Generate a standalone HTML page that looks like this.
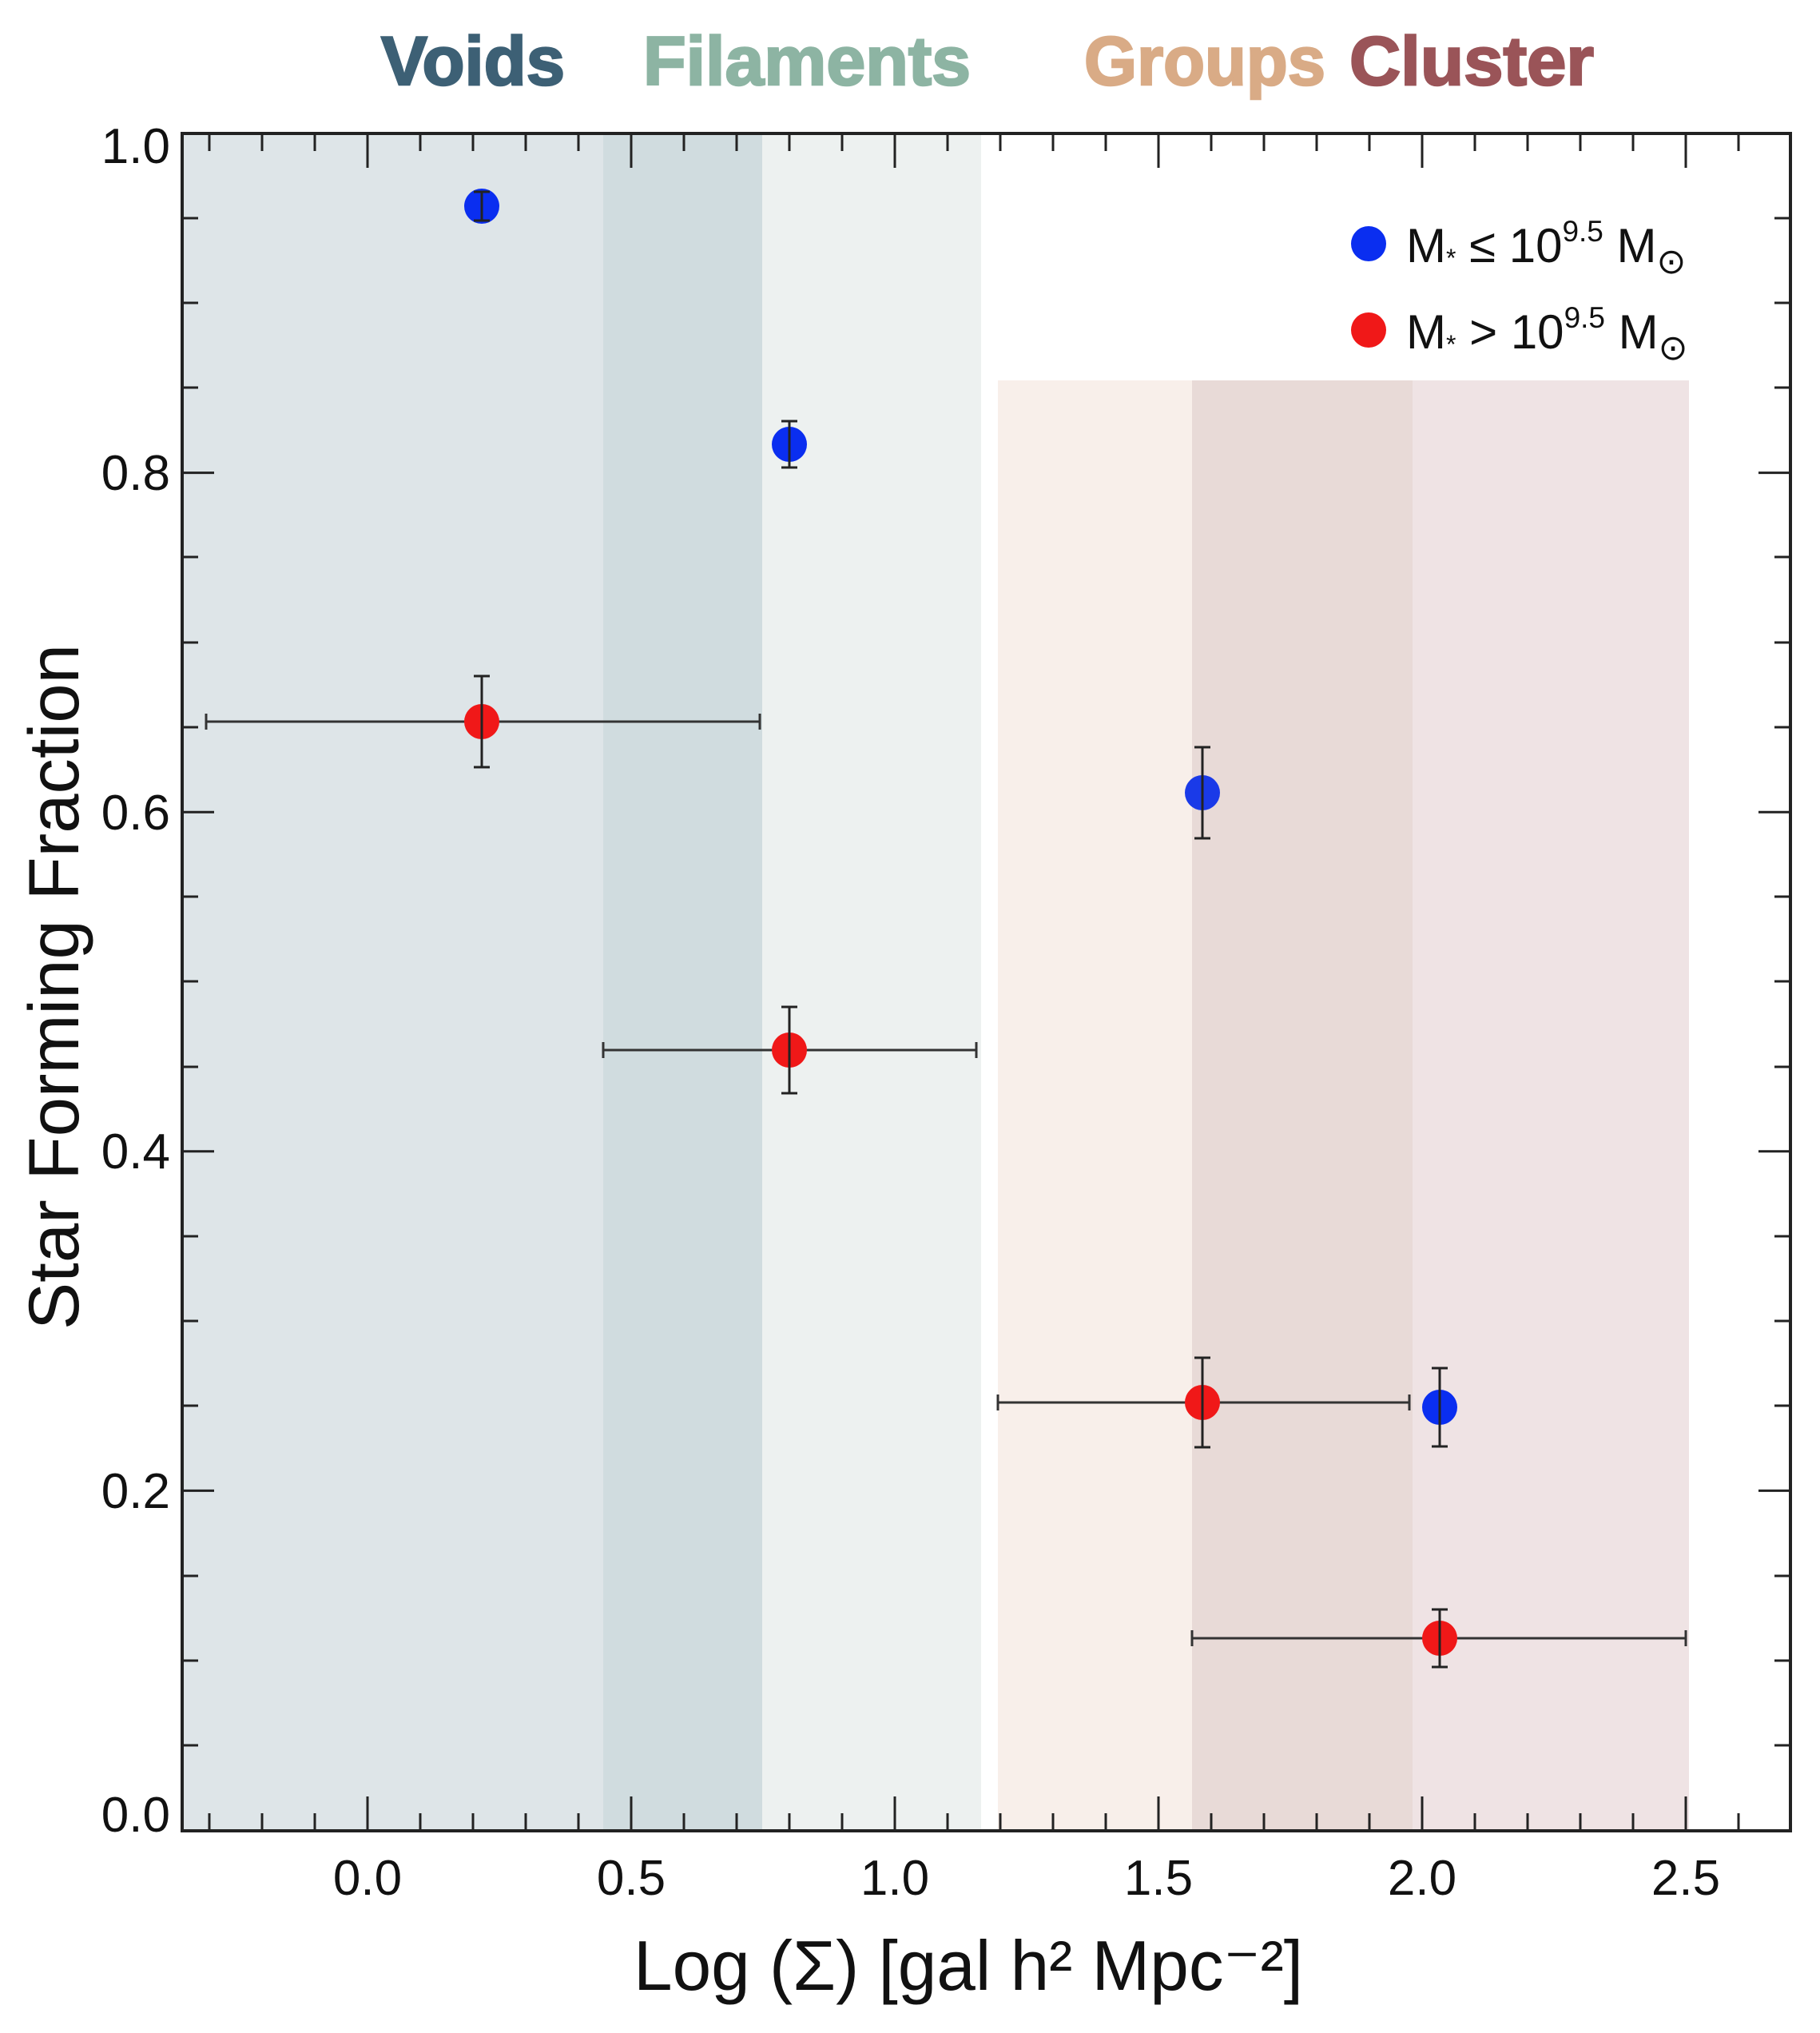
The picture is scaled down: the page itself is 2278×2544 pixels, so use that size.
<!DOCTYPE html>
<html><head><meta charset="utf-8"><style>
html,body{margin:0;padding:0;background:#fff;}
svg{display:block;font-family:"Liberation Sans",Arial,sans-serif;}
</style></head><body>
<svg width="2278" height="2544" viewBox="0 0 2278 2544" xmlns="http://www.w3.org/2000/svg">
<rect x="228" y="167" width="527" height="2124" fill="#dee5e8"/>
<rect x="755" y="167" width="199" height="2124" fill="#d0dcdf"/>
<rect x="954" y="167" width="274" height="2124" fill="#edf1f0"/>
<rect x="1249" y="476" width="243" height="1815" fill="#f8efea"/>
<rect x="1492" y="476" width="276" height="1815" fill="#e8dad7"/>
<rect x="1768" y="476" width="346" height="1815" fill="#efe3e4"/>

<g font-weight="bold" font-size="86" text-anchor="middle" stroke-width="2.5">
<text x="592" y="106" fill="#3d6075" stroke="#3d6075" textLength="230" lengthAdjust="spacingAndGlyphs">Voids</text>
<text x="1010" y="106" fill="#8db4a3" stroke="#8db4a3" textLength="410" lengthAdjust="spacingAndGlyphs">Filaments</text>
<text x="1508" y="106" fill="#d9ab86" stroke="#d9ab86" textLength="302" lengthAdjust="spacingAndGlyphs">Groups</text>
<text x="1842" y="106" fill="#9a5458" stroke="#9a5458" textLength="306" lengthAdjust="spacingAndGlyphs">Cluster</text>
</g>

<g stroke="#222" stroke-width="3">
<path d="M460 2291v-43M790 2291v-43M1120 2291v-43M1450 2291v-43M1780 2291v-43M2110 2291v-43
M460 167v43M790 167v43M1120 167v43M1450 167v43M1780 167v43M2110 167v43"/>
<path d="M262 2291v-22M328 2291v-22M394 2291v-22M526 2291v-22M592 2291v-22M658 2291v-22M724 2291v-22M856 2291v-22M922 2291v-22M988 2291v-22M1054 2291v-22M1186 2291v-22M1252 2291v-22M1318 2291v-22M1384 2291v-22M1516 2291v-22M1582 2291v-22M1648 2291v-22M1714 2291v-22M1846 2291v-22M1912 2291v-22M1978 2291v-22M2044 2291v-22M2176 2291v-22
M262 167v22M328 167v22M394 167v22M526 167v22M592 167v22M658 167v22M724 167v22M856 167v22M922 167v22M988 167v22M1054 167v22M1186 167v22M1252 167v22M1318 167v22M1384 167v22M1516 167v22M1582 167v22M1648 167v22M1714 167v22M1846 167v22M1912 167v22M1978 167v22M2044 167v22M2176 167v22"/>
<path d="M228 591.6h40M228 1016.2h40M228 1440.8h40M228 1865.4h40
M2241 591.6h-40M2241 1016.2h-40M2241 1440.8h-40M2241 1865.4h-40
M228 273h20M228 379h20M228 485h20M228 697h20M228 804h20M228 910h20M228 1122h20M228 1228h20M228 1335h20M228 1547h20M228 1653h20M228 1759h20M228 1972h20M228 2078h20M228 2184h20
M2241 273h-20M2241 379h-20M2241 485h-20M2241 697h-20M2241 804h-20M2241 910h-20M2241 1122h-20M2241 1228h-20M2241 1335h-20M2241 1547h-20M2241 1653h-20M2241 1759h-20M2241 1972h-20M2241 2078h-20M2241 2184h-20"/>
</g>
<rect x="228" y="167" width="2013" height="2124" fill="none" stroke="#222" stroke-width="4"/>

<g font-size="62" fill="#111">
<g text-anchor="end">
<text x="213" y="204">1.0</text>
<text x="213" y="613">0.8</text>
<text x="213" y="1038">0.6</text>
<text x="213" y="1462">0.4</text>
<text x="213" y="1887">0.2</text>
<text x="213" y="2292">0.0</text>
</g>
<g text-anchor="middle">
<text x="460" y="2371">0.0</text>
<text x="790" y="2371">0.5</text>
<text x="1120" y="2371">1.0</text>
<text x="1450" y="2371">1.5</text>
<text x="1780" y="2371">2.0</text>
<text x="2110" y="2371">2.5</text>
</g>
</g>

<text x="1212" y="2490" font-size="88" text-anchor="middle" fill="#111" textLength="838" lengthAdjust="spacingAndGlyphs">Log (Σ) [gal h² Mpc⁻²]</text>
<text transform="translate(98,1235) rotate(-90)" font-size="89" text-anchor="middle" fill="#111" textLength="858" lengthAdjust="spacingAndGlyphs">Star Forming Fraction</text>

<g stroke="#333" stroke-width="3" fill="none">
<path d="M258 903H951M258 893v20M951 893v20"/>
<path d="M755 1314H1222M755 1304v20M1222 1304v20"/>
<path d="M1249 1755H1764M1249 1745v20M1764 1745v20"/>
<path d="M1492 2050H2110M1492 2040v20M2110 2040v20"/>
</g>
<g>
<circle cx="603" cy="258" r="22" fill="#0a2ef0"/>
<circle cx="988" cy="556" r="22" fill="#0a2ef0"/>
<circle cx="1505" cy="992" r="22" fill="#1a3ae8"/>
<circle cx="1802" cy="1761" r="22" fill="#0a2ef0"/>
<circle cx="603" cy="903" r="22" fill="#f01818"/>
<circle cx="988" cy="1314" r="22" fill="#f01818"/>
<circle cx="1505" cy="1755" r="22" fill="#f01818"/>
<circle cx="1802" cy="2050" r="22" fill="#f01818"/>
</g>
<g stroke="#222" stroke-width="3" fill="none">
<path d="M603 240v36M593 240h20M593 276h20"/>
<path d="M988 527v58M978 527h20M978 585h20"/>
<path d="M1505 935v114M1495 935h20M1495 1049h20"/>
<path d="M1802 1712v98M1792 1712h20M1792 1810h20"/>
<path d="M603 846v114M593 846h20M593 960h20"/>
<path d="M988 1260v108M978 1260h20M978 1368h20"/>
<path d="M1505 1699v112M1495 1699h20M1495 1811h20"/>
<path d="M1802 2014v72M1792 2014h20M1792 2086h20"/>
</g>

<circle cx="1713" cy="305" r="22" fill="#0a2ef0"/>
<circle cx="1713" cy="413" r="22" fill="#f01818"/>
<g font-size="60" fill="#111">
<text x="1760" y="328">M<tspan font-size="32" dy="6">*</tspan><tspan dy="-6"> ≤ 10</tspan><tspan font-size="37" dy="-26">9.5</tspan><tspan dy="26"> M</tspan><tspan font-size="44" dy="14">⊙</tspan></text>
<text x="1760" y="436">M<tspan font-size="32" dy="6">*</tspan><tspan dy="-6"> &gt; 10</tspan><tspan font-size="37" dy="-26">9.5</tspan><tspan dy="26"> M</tspan><tspan font-size="44" dy="14">⊙</tspan></text>
</g>
</svg>
</body></html>
